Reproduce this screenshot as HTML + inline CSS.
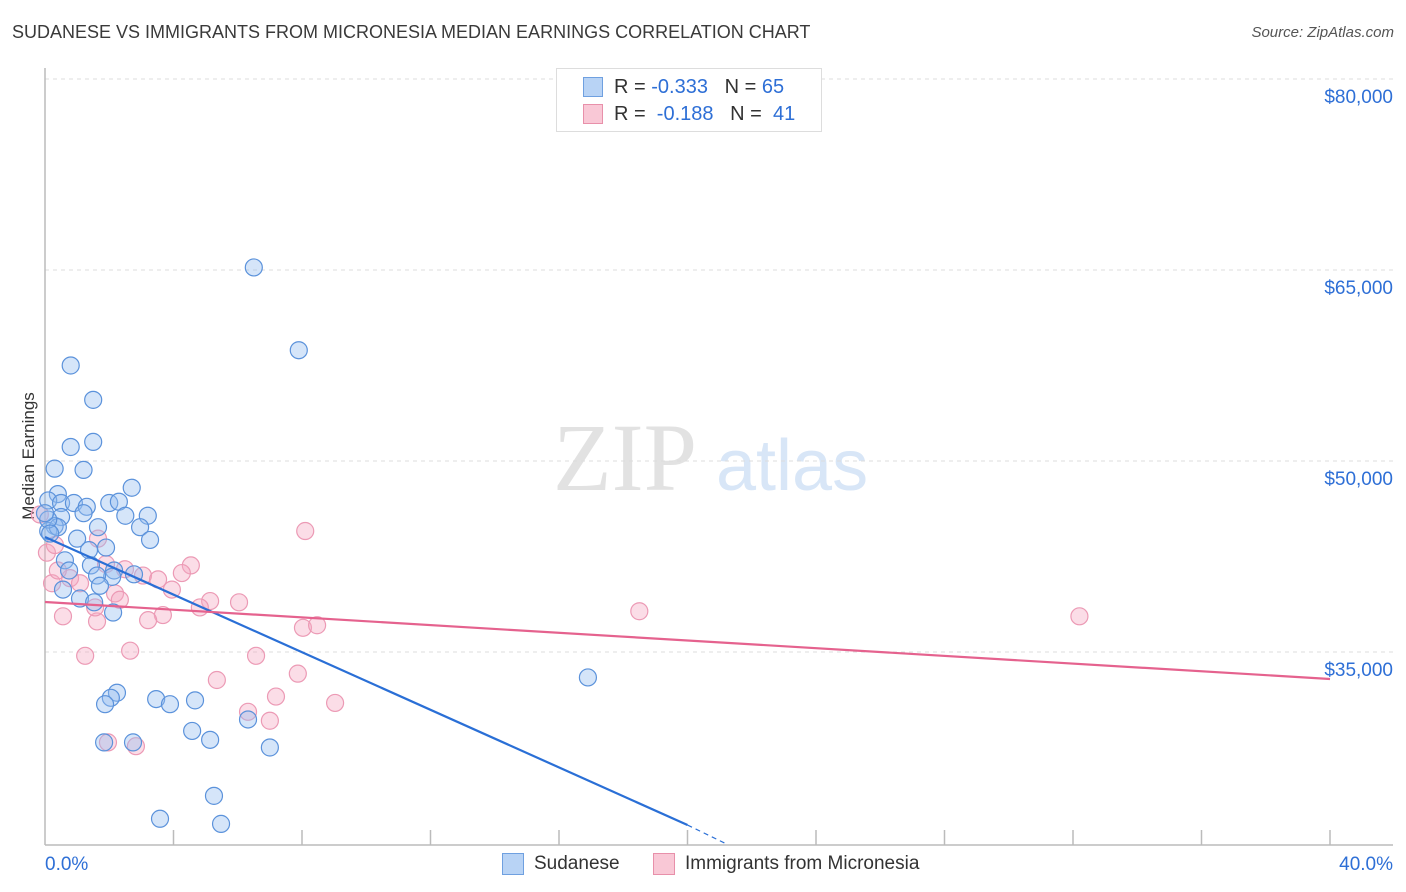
<!DOCTYPE html>
<html><head><meta charset="utf-8"><style>
body{margin:0;background:#fff;font-family:"Liberation Sans",sans-serif;}
#wrap{position:relative;width:1406px;height:892px;overflow:hidden;}
.t{position:absolute;white-space:nowrap;}
</style></head><body>
<div id="wrap">
<div class="t" style="left:12px;top:22px;font-size:18px;color:#3a3a3a;">SUDANESE VS IMMIGRANTS FROM MICRONESIA MEDIAN EARNINGS CORRELATION CHART</div>
<div class="t" style="right:12px;top:24px;font-size:15px;color:#555;font-style:italic;">Source: ZipAtlas.com</div>
<div class="t" style="left:-36px;top:446px;font-size:17px;color:#333;transform:rotate(-90deg);width:130px;text-align:center;">Median Earnings</div>
<svg id="svg" width="1406" height="892" style="position:absolute;left:0;top:0"></svg>
<div style="position:absolute;left:556px;top:68px;width:264px;height:62px;border:1px solid #ddd;background:#fff;">
 <div style="position:absolute;left:26px;top:8px;width:18px;height:18px;background:#b8d3f5;border:1px solid #6fa0e0;"></div>
 <div class="t" style="left:57px;top:7px;font-size:20px;color:#333;">R = <span style="color:#2e6fd6">-0.333</span>&nbsp;&nbsp;&nbsp;N = <span style="color:#2e6fd6">65</span></div>
 <div style="position:absolute;left:26px;top:35px;width:18px;height:18px;background:#f9c8d6;border:1px solid #e890aa;"></div>
 <div class="t" style="left:57px;top:34px;font-size:20px;color:#333;">R = &nbsp;<span style="color:#2e6fd6">-0.188</span>&nbsp;&nbsp;&nbsp;N = &nbsp;<span style="color:#2e6fd6">41</span></div>
</div>
<div>
 <div style="position:absolute;left:502px;top:853px;width:20px;height:20px;background:#b8d3f5;border:1px solid #6fa0e0;"></div>
 <div class="t" style="left:534px;top:853px;font-size:19px;color:#333;">Sudanese</div>
 <div style="position:absolute;left:653px;top:853px;width:20px;height:20px;background:#f9c8d6;border:1px solid #e890aa;"></div>
 <div class="t" style="left:685px;top:853px;font-size:19px;color:#333;">Immigrants from Micronesia</div>
</div>
</div>
<script>
const yTicks=[80000,65000,50000,35000];
const yTickLabels=["$80,000","$65,000","$50,000","$35,000"];
const xTickLabels=["0.0%","40.0%"];
const sudX=[6.5,7.9,0.8,1.5,1.5,0.8,0.3,1.2,2.7,0.4,0.1,0.5,0.9,1.3,2.0,2.3,2.5,3.2,0.5,1.2,1.65,2.96,0.3,0.1,0.4,3.27,1.0,1.9,1.37,0.62,1.43,2.15,2.77,0.75,2.09,0.56,1.62,1.09,1.53,2.12,1.71,16.9,2.24,2.05,1.87,3.46,3.89,4.67,4.58,5.14,6.32,1.84,2.74,7.0,5.26,3.58,5.48,0.1,0.0,0.16];
const sudY=[65200,58700,57500,54800,51500,51100,49400,49300,47900,47400,46900,46700,46700,46400,46700,46800,45700,45700,45600,45900,44800,44800,44900,44500,44800,43800,43900,43200,43000,42200,41800,41400,41100,41400,40900,39900,41000,39200,38900,38100,40200,33000,31800,31400,30900,31300,30900,31200,28800,28100,29700,27900,27900,27500,23700,21900,21500,45400,45900,44300];
const micX=[8.1,18.5,32.2,0.06,0.22,0.78,0.4,1.09,1.65,1.9,2.49,3.05,3.52,3.95,4.54,4.26,5.14,6.04,4.82,3.67,3.21,1.62,0.56,1.25,2.65,8.03,8.47,6.57,7.87,5.35,7.19,6.32,9.03,7.0,1.96,2.83,2.18,1.56,-0.16,0.31,2.33];
const micY=[44500,38200,37800,42800,40400,40800,41400,40400,43900,41900,41500,41000,40700,39900,41800,41200,39000,38900,38500,37900,37500,37400,37800,34700,35100,36900,37100,34700,33300,32800,31500,30300,31000,29600,27900,27600,39600,38500,45800,43400,39100];
const sudTrend=[[0,44030],[20,21410]];
const sudDash=[[20,21410],[21.15,20000]];
const micTrend=[[0,38925],[40,32880]];
const X0=45,PXPCT=32.125,Y0=79,PX1K=12.733;
const xs=v=>X0+v*PXPCT;
const ys=v=>Y0+(80000-v)/1000*PX1K;
const svg=document.getElementById('svg');
const NS='http://www.w3.org/2000/svg';
function mk(tag,attrs){const e=document.createElementNS(NS,tag);for(const k in attrs)e.setAttribute(k,attrs[k]);svg.appendChild(e);return e;}
// watermark
let wm=mk('text',{x:553,y:490,'font-size':96,fill:'#e2e2e2','font-family':'Liberation Serif, serif'});wm.textContent='ZIP';


let wm2=mk('text',{x:716,y:490,'font-size':72,fill:'#d8e6f7','font-family':'Liberation Sans, sans-serif'});wm2.textContent='atlas';


// gridlines
yTicks.forEach((v,i)=>{
 const g=mk('line',{x1:45,x2:1393,y1:ys(v),y2:ys(v),stroke:'#dcdcdc','stroke-dasharray':'4,4'});
 
 
 const t=mk('text',{x:1393,y:ys(v)+24,'text-anchor':'end','font-size':19,fill:'#2e6fd6','font-family':'Liberation Sans, sans-serif'});
 t.textContent=yTickLabels[i];
 
 
});
// axes
let ax=mk('line',{x1:45,x2:45,y1:68,y2:845,stroke:'#bbb','stroke-width':1.5});


let bx=mk('line',{x1:45,x2:1393,y1:845,y2:845,stroke:'#bbb','stroke-width':1.5});


for(let i=1;i<=10;i++){
 const tk=mk('line',{x1:xs(i*4),x2:xs(i*4),y1:830,y2:845,stroke:'#bbb','stroke-width':1.5});
 
 
}
[[0,'start',45],[40,'end',1393]].forEach((p,i)=>{
 const t=mk('text',{x:p[2],y:870,'text-anchor':p[1],'font-size':19,fill:'#2e6fd6','font-family':'Liberation Sans, sans-serif'});
 t.textContent=xTickLabels[i];
 
 
});
// points
micX.forEach((x,i)=>{
 const c=mk('circle',{cx:xs(x),cy:ys(micY[i]),r:8.5,fill:'rgba(246,170,195,0.4)',stroke:'#ec9ab5','stroke-width':1.2});
 
 
});
sudX.forEach((x,i)=>{
 const c=mk('circle',{cx:xs(x),cy:ys(sudY[i]),r:8.5,fill:'rgba(150,190,240,0.4)',stroke:'#5b92db','stroke-width':1.2});
 
 
});
let l1=mk('line',{x1:xs(sudTrend[0][0]),y1:ys(sudTrend[0][1]),x2:xs(sudTrend[1][0]),y2:ys(sudTrend[1][1]),stroke:'#2a6fd6','stroke-width':2.2});


let l1d=mk('line',{x1:xs(sudDash[0][0]),y1:ys(sudDash[0][1]),x2:xs(sudDash[1][0]),y2:ys(sudDash[1][1]),stroke:'#2a6fd6','stroke-width':1.2,'stroke-dasharray':'5,4'});


let l2=mk('line',{x1:xs(micTrend[0][0]),y1:ys(micTrend[0][1]),x2:xs(micTrend[1][0]),y2:ys(micTrend[1][1]),stroke:'#e5628e','stroke-width':2.2});


</script>
</body></html>
